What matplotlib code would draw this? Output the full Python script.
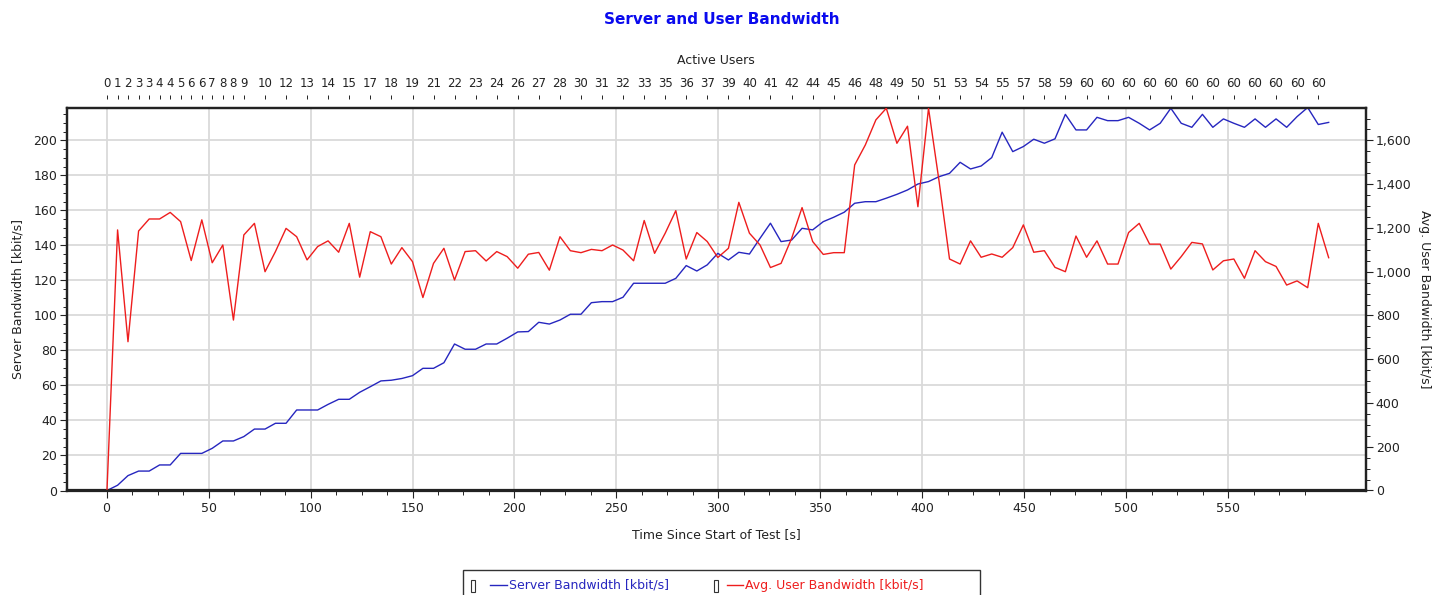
import matplotlib
matplotlib.use("Agg")
import matplotlib.pyplot as plt
from matplotlib.ticker import MultipleLocator, FuncFormatter, FixedLocator, NullLocator
from matplotlib.patches import Rectangle
from matplotlib.lines import Line2D

# ---------------- data ----------------
time_s = [0.2, 5.4, 10.5, 15.7, 20.9, 26.0, 31.2, 36.3, 41.5, 46.7,
          51.8, 57.0, 62.2, 67.3, 72.5, 77.7, 82.8, 88.0, 93.2, 98.3,
          103.5, 108.6, 113.8, 119.0, 124.1, 129.3, 134.5, 139.6, 144.8, 150.0,
          155.1, 160.3, 165.4, 170.6, 175.8, 180.9, 186.1, 191.3, 196.4, 201.6,
          206.8, 211.9, 217.1, 222.3, 227.4, 232.6, 237.7, 242.9, 248.1, 253.2,
          258.4, 263.6, 268.7, 273.9, 279.1, 284.2, 289.4, 294.5, 299.7, 304.9,
          310.0, 315.2, 320.4, 325.5, 330.7, 335.9, 341.0, 346.2, 351.4, 356.5,
          361.7, 366.8, 372.0, 377.2, 382.3, 387.5, 392.7, 397.8, 403.0, 408.2,
          413.3, 418.5, 423.6, 428.8, 434.0, 439.1, 444.3, 449.5, 454.6, 459.8,
          465.0, 470.1, 475.3, 480.5, 485.6, 490.8, 495.9, 501.1, 506.3, 511.4,
          516.6, 521.8, 526.9, 532.1, 537.3, 542.4, 547.6, 552.7, 557.9, 563.1,
          568.2, 573.4, 578.6, 583.7, 588.9, 594.1, 599.2]

server_bw = [0.0, 3.0, 8.5, 11.1, 11.1, 14.6, 14.6, 21.2, 21.2, 21.2,
             24.1, 28.3, 28.3, 30.8, 35.1, 35.1, 38.4, 38.4, 46.0, 46.0,
             46.0, 49.2, 52.1, 52.1, 56.1, 59.3, 62.6, 63.0, 64.0, 65.6,
             69.8, 69.8, 73.0, 83.7, 80.7, 80.7, 83.7, 83.7, 87.0, 90.6,
             90.8, 96.1, 95.1, 97.4, 100.7, 100.7, 107.3, 107.9, 107.9, 110.4,
             118.4, 118.4, 118.4, 118.4, 121.2, 128.5, 125.4, 128.9, 135.5, 131.7,
             136.1, 135.1, 144.1, 152.7, 142.2, 143.1, 149.8, 148.9, 153.6, 156.1,
             159.0, 164.1, 165.0, 165.0, 167.0, 169.2, 171.7, 175.1, 176.5, 179.3,
             181.2, 187.5, 183.7, 185.4, 190.2, 204.7, 193.6, 196.5, 200.7, 198.4,
             200.9, 214.9, 206.0, 206.0, 213.2, 211.3, 211.3, 213.2, 209.8, 206.0,
             209.8, 218.4, 209.8, 207.5, 214.9, 207.5, 212.3, 209.8, 207.5, 212.3,
             207.5, 212.3, 207.5, 213.6, 218.8, 209.1, 210.3]

user_bw = [0, 1191, 680, 1186, 1241, 1241, 1271, 1229, 1051, 1237,
           1041, 1122, 779, 1168, 1221, 1000, 1092, 1198, 1160, 1054,
           1115, 1141, 1089, 1221, 975, 1183, 1160, 1035, 1110, 1046,
           882, 1038, 1107, 962, 1092, 1096, 1049, 1092, 1069, 1016,
           1080, 1088, 1007, 1160, 1096, 1087, 1102, 1096, 1122, 1099,
           1050, 1234, 1084, 1176, 1279, 1058, 1179, 1138, 1065, 1107,
           1317, 1176, 1122, 1019, 1038, 1153, 1293, 1138, 1079, 1087,
           1087, 1488, 1579, 1694, 1747, 1587, 1665, 1297, 1747, 1412,
           1058, 1035, 1141, 1066, 1081, 1066, 1110, 1214, 1089, 1096,
           1020, 1000, 1163, 1066, 1141, 1035, 1035, 1179, 1221, 1126,
           1126, 1012, 1069, 1134, 1127, 1008, 1050, 1058, 970, 1096,
           1046, 1024, 939, 958, 927, 1221, 1064]

# bottom axis ticks
time_ticks = [0, 50, 100, 150, 200, 250, 300, 350, 400, 450, 500, 550]

# top axis: active users, shown at these sample indices
user_tick_idx = list(range(0, 14)) + list(range(15, 116, 2))
active_users = [0, 1, 2, 3, 3, 4, 4, 5, 6, 6, 7, 8, 8, 9,
                10, 12, 13, 14, 15, 17, 18, 19, 21, 22, 23, 24, 26,
                27, 28, 30, 31, 32, 33, 35, 36, 37, 39, 40, 41, 42, 44, 45, 46,
                48, 49, 50, 51, 53, 54, 55, 57, 58, 59,
                60, 60, 60, 60, 60, 60, 60, 60, 60, 60, 60, 60]

# ---------------- figure ----------------
W, H = 1437, 595
fig = plt.figure(figsize=(W / 100, H / 100), dpi=100)
fig.patch.set_facecolor("white")


def fx(px):
    return px / W


def fy(py):
    return 1 - py / H


AX_L, AX_R, AX_T, AX_B = 67, 1366, 107.7, 490.5
ax = fig.add_axes([fx(AX_L), fy(AX_B), fx(AX_R) - fx(AX_L), fy(AX_T) - fy(AX_B)])

BLUE = "#2626bf"
RED = "#ee1d1d"
SPINE = "#222222"
FS = 9

ax.set_xlim(-19.4, 617.5)
ax.set_ylim(0, 218.7)
ax.xaxis.set_major_locator(FixedLocator(time_ticks))
ax.xaxis.set_minor_locator(FixedLocator([t / 2.0 for t in range(0, 1176, 25)]))
ax.yaxis.set_major_locator(MultipleLocator(20))
ax.yaxis.set_minor_locator(MultipleLocator(5))
ax.set_axisbelow(True)
ax.grid(True, which="major", color="#dadada", linewidth=1.3)

ax.plot(time_s, server_bw, color=BLUE, linewidth=1.0, zorder=3)

ax.tick_params(axis="both", which="major", labelsize=FS, colors=SPINE,
               direction="out", length=5, width=0.8)
ax.tick_params(axis="both", which="minor", direction="out", length=3,
               width=0.7, colors=SPINE)
ax.tick_params(axis="y", which="major", pad=2)
ax.tick_params(axis="x", which="major", pad=3)
for s in ax.spines.values():
    s.set_color(SPINE)
    s.set_linewidth(1.6)

# right axis
axr = ax.twinx()
axr.set_ylim(0, 218.7 * 8)
axr.yaxis.set_major_locator(MultipleLocator(200))
axr.yaxis.set_minor_locator(MultipleLocator(50))
axr.yaxis.set_major_formatter(FuncFormatter(lambda v, p: f"{int(round(v)):,}"))
axr.plot(time_s, user_bw, color=RED, linewidth=1.0, zorder=3)
axr.tick_params(axis="y", which="major", labelsize=FS, colors=SPINE,
                direction="out", length=5, width=0.8, pad=2)
axr.tick_params(axis="y", which="minor", direction="out", length=3,
                width=0.7, colors=SPINE)
for s in axr.spines.values():
    s.set_color(SPINE)
    s.set_linewidth(1.6)

# top axis (active users)
sec = ax.secondary_xaxis(1 + 9 / (AX_B - AX_T))
sec.spines["top"].set_visible(False)
sec.xaxis.set_major_locator(FixedLocator([time_s[i] for i in user_tick_idx]))
sec.set_xticklabels([str(u) for u in active_users])
sec.xaxis.set_minor_locator(NullLocator())
sec.tick_params(axis="x", which="major", labelsize=8.5, colors=SPINE,
                direction="out", length=3, width=0.7, pad=3)

# ---------------- texts ----------------
fig.text(fx(722), fy(20), "Server and User Bandwidth", ha="center", va="center",
         fontsize=11, fontweight="bold", color="#0a0aee")
fig.text(fx(716), fy(60), "Active Users", ha="center", va="center",
         fontsize=FS, color=SPINE)
fig.text(fx(716), fy(535), "Time Since Start of Test [s]", ha="center",
         va="center", fontsize=FS, color=SPINE)
fig.text(fx(18), fy(299), "Server Bandwidth [kbit/s]", ha="center",
         va="center", rotation=90, fontsize=FS, color=SPINE)
fig.text(fx(1425), fy(299), "Avg. User Bandwidth [kbit/s]", ha="center",
         va="center", rotation=270, fontsize=FS, color=SPINE)

# ---------------- legend ----------------
fig.add_artist(Rectangle((fx(463), fy(605)), fx(980) - fx(463), fy(569.5) - fy(605),
                         transform=fig.transFigure, facecolor="white",
                         edgecolor="#333333", linewidth=1.0))
LEG_Y = 585
for bx in (471, 714):
    fig.add_artist(Rectangle((fx(bx), fy(592)), fx(4), fy(580) - fy(592),
                             transform=fig.transFigure, facecolor="white",
                             edgecolor="#333333", linewidth=0.8))
fig.add_artist(Line2D([fx(490), fx(507)], [fy(LEG_Y), fy(LEG_Y)],
                      transform=fig.transFigure, color=BLUE, linewidth=1.0))
fig.text(fx(509), fy(LEG_Y), "Server Bandwidth [kbit/s]", ha="left",
         va="center", fontsize=FS, color=BLUE)
fig.add_artist(Line2D([fx(727), fx(743)], [fy(LEG_Y), fy(LEG_Y)],
                      transform=fig.transFigure, color=RED, linewidth=1.0))
fig.text(fx(745), fy(LEG_Y), "Avg. User Bandwidth [kbit/s]", ha="left",
         va="center", fontsize=FS, color=RED)

fig.savefig("out.png", dpi=100)
